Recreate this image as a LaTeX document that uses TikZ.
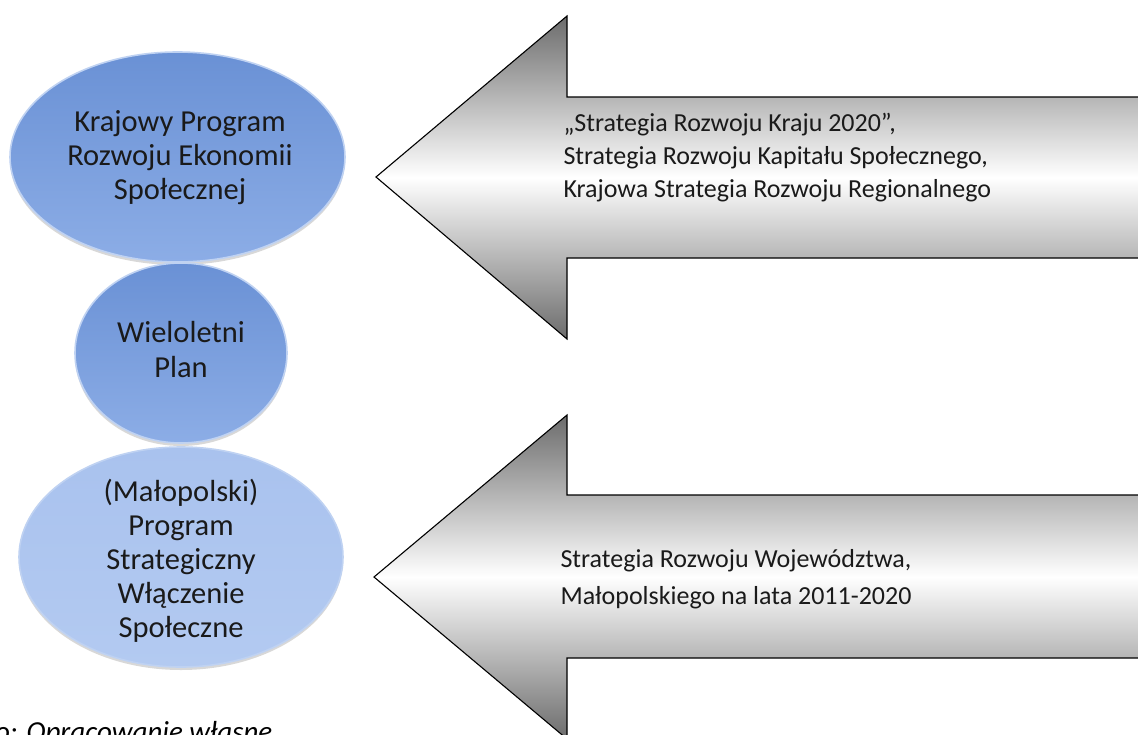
\documentclass[tikz,border=0pt]{standalone}
\usepackage{fontspec}
\setmainfont{Carlito}
\usetikzlibrary{shapes.geometric,shadows}
\definecolor{tipgray}{HTML}{6C6C6C}
\definecolor{bTop}{HTML}{6A91D5}
\definecolor{bMid}{HTML}{759CDC}
\definecolor{bBot}{HTML}{8CADE6}
\definecolor{lTop}{HTML}{A9C2EE}
\definecolor{lMid}{HTML}{A2BDEC}
\definecolor{lBot}{HTML}{B3CAF1}
\definecolor{rim}{HTML}{BFD2F2}
\definecolor{inktext}{HTML}{1A1A1A}
\tikzset{
  bigarrow/.style={draw=black, line width=1.1pt, top color=tipgray, bottom color=tipgray, middle color=white},
  bubble/.style={ellipse, inner sep=0pt, draw=rim, line width=1.6pt,
    top color=bTop, middle color=bMid, bottom color=bBot,
    drop shadow={opacity=0.3, shadow xshift=0pt, shadow yshift=-3pt}},
  lbubble/.style={bubble, top color=lTop, middle color=lMid, bottom color=lBot},
  bubbletext/.style={align=center, text=inktext},
  arrowtext/.style={align=left, anchor=west, text=inktext}
}
\begin{document}
\begin{tikzpicture}[x=1pt,y=-1pt]
\useasboundingbox (0,0) rectangle (1138,734);
\fill[white] (0,0) rectangle (1138,734);

% arrows
\draw[bigarrow] (1150,97) -- (567,97) -- (567,16) -- (376,177) -- (567,339) -- (567,258) -- (1150,258) -- cycle;
\draw[bigarrow] (1150,495) -- (567,495) -- (567,415) -- (374,577) -- (567,739) -- (567,658) -- (1150,658) -- cycle;

\node[arrowtext, font=\fontsize{26}{33}\selectfont] (t1) at (560,158)
  {„Strategia Rozwoju Kraju 2020”,\\Strategia Rozwoju Kapitału Społecznego,\\Krajowa Strategia Rozwoju Regionalnego};
\node[arrowtext, font=\fontsize{26}{37}\selectfont] (t2) at (557,579)
  {Strategia Rozwoju Województwa,\\Małopolskiego na lata 2011-2020};

% bubbles
\node[bubble, minimum width=335, minimum height=210] (e1) at (177.5,157) {};
\node[bubble, minimum width=212, minimum height=180] (e2) at (181,353) {};
\node[lbubble, minimum width=324, minimum height=220] (e3) at (181,557) {};

\node[bubbletext, font=\fontsize{30.5}{34}\selectfont] (l1) at (180,158) {Krajowy Program\\Rozwoju Ekonomii\\Społecznej};
\node[bubbletext, font=\fontsize{30.5}{35}\selectfont] (l2) at (181,350) {Wieloletni\\Plan};
\node[bubbletext, font=\fontsize{30.5}{34}\selectfont] (l3) at (181,561) {(Małopolski)\\Program\\Strategiczny\\Włączenie\\Społeczne};

\node[anchor=base west, inner sep=0pt, font=\fontsize{29}{32}\selectfont\itshape] (src) at (-5,741) {o: Opracowanie własne};
\end{tikzpicture}
\end{document}
